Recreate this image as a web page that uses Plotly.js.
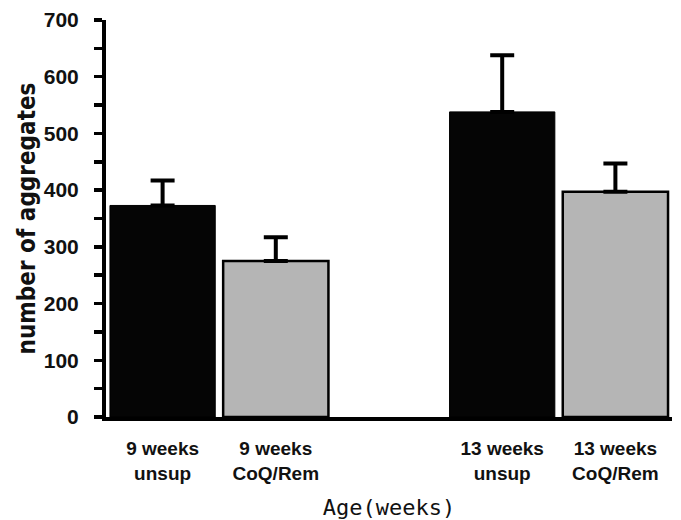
<!DOCTYPE html>
<html>
<head>
<meta charset="utf-8">
<script src="https://cdn.plot.ly/plotly-3.0.1.min.js"></script>
<style>html,body{margin:0;padding:0;background:#fff;}#chart{width:681px;height:520px;}</style>
</head>
<body>
<div id="chart"></div>
<script>
// Data
var categories = ["9 weeks<br>unsup", "9 weeks<br>CoQ/Rem", " ", "13 weeks<br>unsup", "13 weeks<br>CoQ/Rem"];
var unsupValues = [373, null, null, 538, null];
var unsupErrors = [44, 0, 0, 100, 0];
var coqValues = [null, 275, null, null, 397];
var coqErrors = [0, 42, 0, 0, 50];
var zeros = [0, 0, 0, 0, 0];
var yTickVals = [0, 100, 200, 300, 400, 500, 600, 700];

var errStyle = function (arr) {
  return {type: 'data', symmetric: false, array: arr, arrayminus: zeros,
          visible: true, color: '#000', thickness: 4, width: 12};
};

var traces = [
  {type: 'bar', x: categories, y: unsupValues, name: 'unsup',
   marker: {color: '#050505', line: {color: '#000', width: 1}},
   error_y: errStyle(unsupErrors), hoverinfo: 'x+y'},
  {type: 'bar', x: categories, y: coqValues, name: 'CoQ/Rem',
   marker: {color: '#b5b5b5', line: {color: '#000', width: 2.5}},
   error_y: errStyle(coqErrors), hoverinfo: 'x+y'}
];

var layout = {
  width: 681, height: 520,
  margin: {l: 106, r: 9, t: 20, b: 103},
  paper_bgcolor: '#fff', plot_bgcolor: '#fff',
  showlegend: false,
  barmode: 'overlay',
  bargap: 0.07,
  xaxis: {
    type: 'category',
    categoryorder: 'array', categoryarray: categories,
    showline: true, linecolor: '#000', linewidth: 4,
    ticks: '', showgrid: false, zeroline: false,
    tickfont: {family: 'Liberation Sans, Arial, sans-serif', size: 19, color: '#111', weight: 'bold'},
    ticklabelstandoff: 11,
    title: {text: 'Age(weeks)', standoff: 20,
            font: {family: 'DejaVu Sans Mono, monospace', size: 22, color: '#111'}},
    fixedrange: true
  },
  yaxis: {
    range: [0, 700], autorange: false,
    tickvals: yTickVals,
    showline: true, linecolor: '#000', linewidth: 4,
    ticks: 'outside', ticklen: 8, tickwidth: 3.5, tickcolor: '#000',
    minor: {dtick: 50, tick0: 0, ticks: 'outside', ticklen: 8, tickwidth: 3.5, tickcolor: '#000', showgrid: false},
    showgrid: false, zeroline: false,
    tickfont: {family: 'Liberation Sans, Arial, sans-serif', size: 21, color: '#111', weight: 'bold'},
    ticklabelstandoff: 11,
    title: {text: 'number of aggregates', standoff: 2,
            font: {family: 'DejaVu Sans Condensed, DejaVu Sans, sans-serif', size: 24, color: '#111', weight: 'bold'}},
    fixedrange: true
  }
};

Plotly.newPlot('chart', traces, layout, {displayModeBar: false, staticPlot: true});
</script>
</body>
</html>
